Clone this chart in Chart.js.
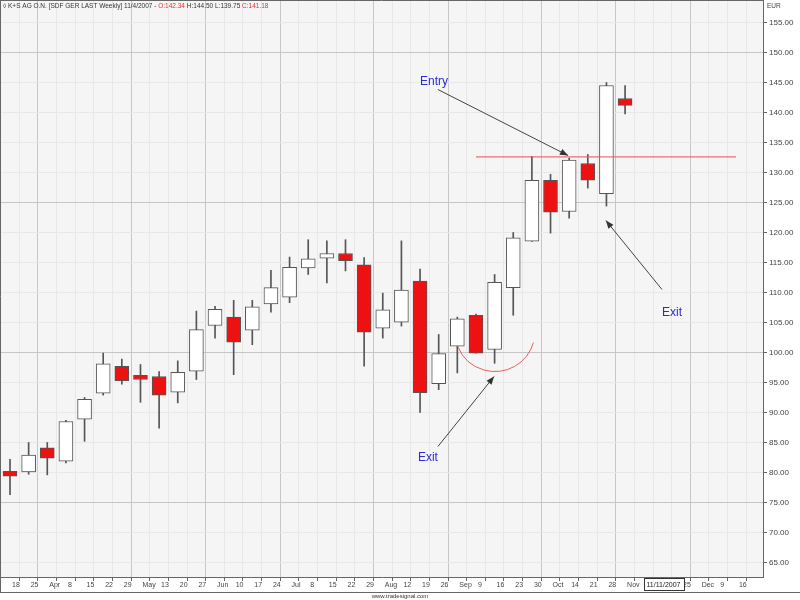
<!DOCTYPE html>
<html><head><meta charset="utf-8">
<script src="https://cdn.jsdelivr.net/npm/chart.js@4.4.0/dist/chart.umd.min.js"></script>
<style>html,body{margin:0;padding:0;background:#fff}</style>
</head><body>
<canvas id="c" width="800" height="600"></canvas>
<script>
// ---- data (weekly candles, K+S AG) ----
const weekLabels = ["18","25","Apr","8","15","22","29","May","13","20","27","Jun","10","17","24","Jul","8","15","22","29","Aug","12","19","26","Sep","9","16","23","30","Oct","14","21","28","Nov","","","25","Dec","9","16"];
const monthStarts = [2,7,11,15,20,24,29,33,37];
const opens  = [80.2,80.1,84.1,81.9,88.9,93.2,97.7,96.2,96.0,93.4,96.9,104.5,105.9,103.7,108.1,109.2,114.1,115.7,116.5,114.6,104.05,105.05,111.9,94.8,101.05,106.2,100.5,110.8,118.55,128.7,123.5,131.5,126.45,142.34];
const highs  = [82.2,85.0,85.0,88.7,92.5,99.9,98.9,98.0,96.8,98.6,106.9,107.7,108.7,108.7,113.7,115.9,118.8,118.6,118.8,115.8,109.9,118.6,113.9,103.0,105.9,106.4,113.0,120.0,132.7,129.7,132.4,133.0,145.0,144.50];
const lows   = [76.3,79.7,79.6,81.6,85.2,92.9,94.7,91.7,87.4,91.6,95.5,102.4,96.3,101.3,106.7,108.3,113.0,111.6,113.6,97.7,102.4,104.4,90.0,93.8,96.6,99.9,98.2,106.2,118.5,119.9,122.4,127.4,124.4,139.75];
const closes = [79.4,82.9,82.4,88.5,92.2,98.1,95.3,95.5,92.9,96.7,103.8,107.2,101.7,107.6,110.8,114.2,115.6,116.5,115.3,103.4,107.1,110.4,93.3,99.8,105.6,99.9,111.7,119.1,128.7,123.4,132.05,128.7,144.5,141.18];
const yTicks = [65,70,75,80,85,90,95,100,105,110,115,120,125,130,135,140,145,150,155];
const entryLevel = 132.6;

// annotations in data coordinates (x = week index, y = EUR)
const annotations = {
  entryText: {x:22.75, y:145.17, text:"Entry"},
  entryArrow: {x1:22.96, y1:143.83, x2:29.94, y2:132.83},
  entryLine: {x1:25.0, x2:38.95},
  exitText1: {x:35.52, y:106.67, text:"Exit"},
  exitArrow1: {x1:34.98, y1:110.5, x2:31.97, y2:122.0},
  exitText2: {x:22.42, y:82.5, text:"Exit"},
  exitArrow2: {x1:22.96, y1:84.33, x2:25.97, y2:96.0},
  arc: {x:26.02, y:103.5, rx:2.15, a1:16, a2:158}
};

Chart.defaults.font.family = "'Liberation Sans', Arial, sans-serif";

function arrow(ctx, x1, y1, x2, y2) {
  ctx.beginPath(); ctx.moveTo(x1, y1); ctx.lineTo(x2, y2); ctx.stroke();
  const a = Math.atan2(y2 - y1, x2 - x1), L = 8, W = 3.2;
  ctx.beginPath();
  ctx.moveTo(x2, y2);
  ctx.lineTo(x2 - L*Math.cos(a) + W*Math.sin(a), y2 - L*Math.sin(a) - W*Math.cos(a));
  ctx.lineTo(x2 - L*Math.cos(a) - W*Math.sin(a), y2 - L*Math.sin(a) + W*Math.cos(a));
  ctx.closePath(); ctx.fill();
}

const decor = {
  id: 'decor',
  beforeDraw(chart) {
    const {ctx, chartArea: a} = chart;
    ctx.save();
    ctx.fillStyle = '#fff'; ctx.fillRect(0, 0, chart.width, chart.height);
    ctx.fillStyle = '#f5f5f5'; ctx.fillRect(a.left, 0, a.right - a.left, a.bottom);
    ctx.restore();
  },
  afterDatasetsDraw(chart) {
    const {ctx, scales: {x, y}} = chart;
    const X = v => x.getPixelForValue(v), Y = v => y.getPixelForValue(v);
    ctx.save();
    ctx.strokeStyle = 'rgba(230,90,90,0.85)'; ctx.lineWidth = 1.3;
    ctx.beginPath(); ctx.moveTo(X(annotations.entryLine.x1), Y(entryLevel)); ctx.lineTo(X(annotations.entryLine.x2), Y(entryLevel)); ctx.stroke();
    const ar = annotations.arc;
    const r = X(ar.x + ar.rx) - X(ar.x);
    ctx.strokeStyle = 'rgba(230,80,80,0.9)'; ctx.lineWidth = 1;
    ctx.beginPath(); ctx.arc(X(ar.x), Y(ar.y), r, ar.a1*Math.PI/180, ar.a2*Math.PI/180); ctx.stroke();
    ctx.strokeStyle = '#444'; ctx.fillStyle = '#333'; ctx.lineWidth = 1;
    [annotations.entryArrow, annotations.exitArrow1, annotations.exitArrow2].forEach(p => arrow(ctx, X(p.x1), Y(p.y1), X(p.x2), Y(p.y2)));
    ctx.fillStyle = '#2a2ad8'; ctx.font = "12px 'Liberation Sans', Arial"; ctx.textAlign = 'center'; ctx.textBaseline = 'middle';
    [annotations.entryText, annotations.exitText1, annotations.exitText2].forEach(t => ctx.fillText(t.text, X(t.x), Y(t.y)));
    ctx.restore();
  },
  afterDraw(chart) {
    const {ctx, chartArea: a, scales: {x}} = chart;
    ctx.save();
    ctx.strokeStyle = '#666'; ctx.lineWidth = 1;
    ctx.beginPath();
    ctx.moveTo(0.5, 0); ctx.lineTo(0.5, 592.5);
    ctx.moveTo(0, 0.5); ctx.lineTo(a.right, 0.5);
    ctx.moveTo(0, 592.5); ctx.lineTo(800, 592.5);
    ctx.stroke();
    ctx.font = "6.5px 'Liberation Sans', Arial"; ctx.textBaseline = 'middle'; ctx.textAlign = 'left';
    const parts = [["◊ K+S AG O.N. [SDF GER LAST Weekly] 11/4/2007 - ", '#333'], ["O:142.34 ", '#e03030'], ["H:144.50 L:139.75 ", '#333'], ["C:141.18", '#e03030']];
    let hx = 3;
    parts.forEach(([t, c]) => { ctx.fillStyle = c; ctx.fillText(t, hx, 6.5); hx += ctx.measureText(t).width; });
    ctx.fillStyle = '#444'; ctx.font = "6.5px 'Liberation Sans', Arial";
    ctx.fillText('EUR', 767, 6);
    ctx.textAlign = 'center'; ctx.fillStyle = '#333'; ctx.font = "6px 'Liberation Sans', Arial";
    ctx.fillText('www.tradesignal.com', 400, 596.5);
    const bx = Math.round(x.getPixelForValue(34)) + 0.5;
    ctx.fillStyle = '#fff'; ctx.fillRect(bx, 578.5, 40, 12);
    ctx.strokeStyle = '#333'; ctx.strokeRect(bx, 578.5, 40, 12);
    ctx.fillStyle = '#222'; ctx.font = "7px 'Liberation Sans', Arial"; ctx.textAlign = 'left';
    ctx.fillText('11/11/2007', bx + 2, 585);
    ctx.restore();
  }
};

new Chart(document.getElementById('c'), {
  type: 'bar',
  data: {
    datasets: [
      {
        label: 'Body',
        data: opens.map((o, i) => ({x: i, y: [o, closes[i]]})),
        backgroundColor: opens.map((o, i) => closes[i] >= o ? '#ffffff' : '#ee1111'),
        borderColor: '#555', borderWidth: 1, borderSkipped: false,
        barThickness: 14, grouped: false, order: 1
      },
      {
        label: 'Wick',
        data: opens.map((o, i) => ({x: i, y: [lows[i], highs[i]]})),
        backgroundColor: '#555', borderWidth: 0,
        barThickness: 1, grouped: false, order: 2
      }
    ]
  },
  options: {
    responsive: false, animation: false, devicePixelRatio: 1,
    layout: {padding: {left: 1, top: 0, right: 0, bottom: 8}},
    plugins: {legend: {display: false}, tooltip: {enabled: false}},
    scales: {
      x: {
        type: 'linear', min: -0.483, max: 40.40, offset: false,
        afterBuildTicks: s => { s.ticks = weekLabels.map((l, i) => ({value: i})); },
        afterFit: s => { s.height = 15; s.paddingLeft = 0; s.paddingRight = 0; },
        ticks: {callback: v => weekLabels[v], autoSkip: false, maxRotation: 0, minRotation: 0, align: 'start', labelOffset: 2, padding: 0, color: '#444', font: {size: 7}},
        grid: {color: c => monthStarts.includes(c.tick && c.tick.value) ? '#c6c6c6' : '#e8e8e8', tickColor: '#666', tickLength: 4, drawTicks: true},
        border: {color: '#666'}
      },
      y: {
        position: 'right', min: 62.58, max: 158.75,
        afterBuildTicks: s => { s.ticks = yTicks.map(v => ({value: v})); },
        afterFit: s => { s.width = 37; s.paddingTop = 0; s.paddingBottom = 0; },
        ticks: {callback: v => Number(v).toFixed(2), padding: 2, color: '#444', font: {size: 8}},
        grid: {color: c => (c.tick && c.tick.value % 25 === 0) ? '#c6c6c6' : '#e8e8e8', tickColor: '#666', tickLength: 4},
        border: {color: '#666'}
      }
    }
  },
  plugins: [decor]
});
</script>
</body></html>
